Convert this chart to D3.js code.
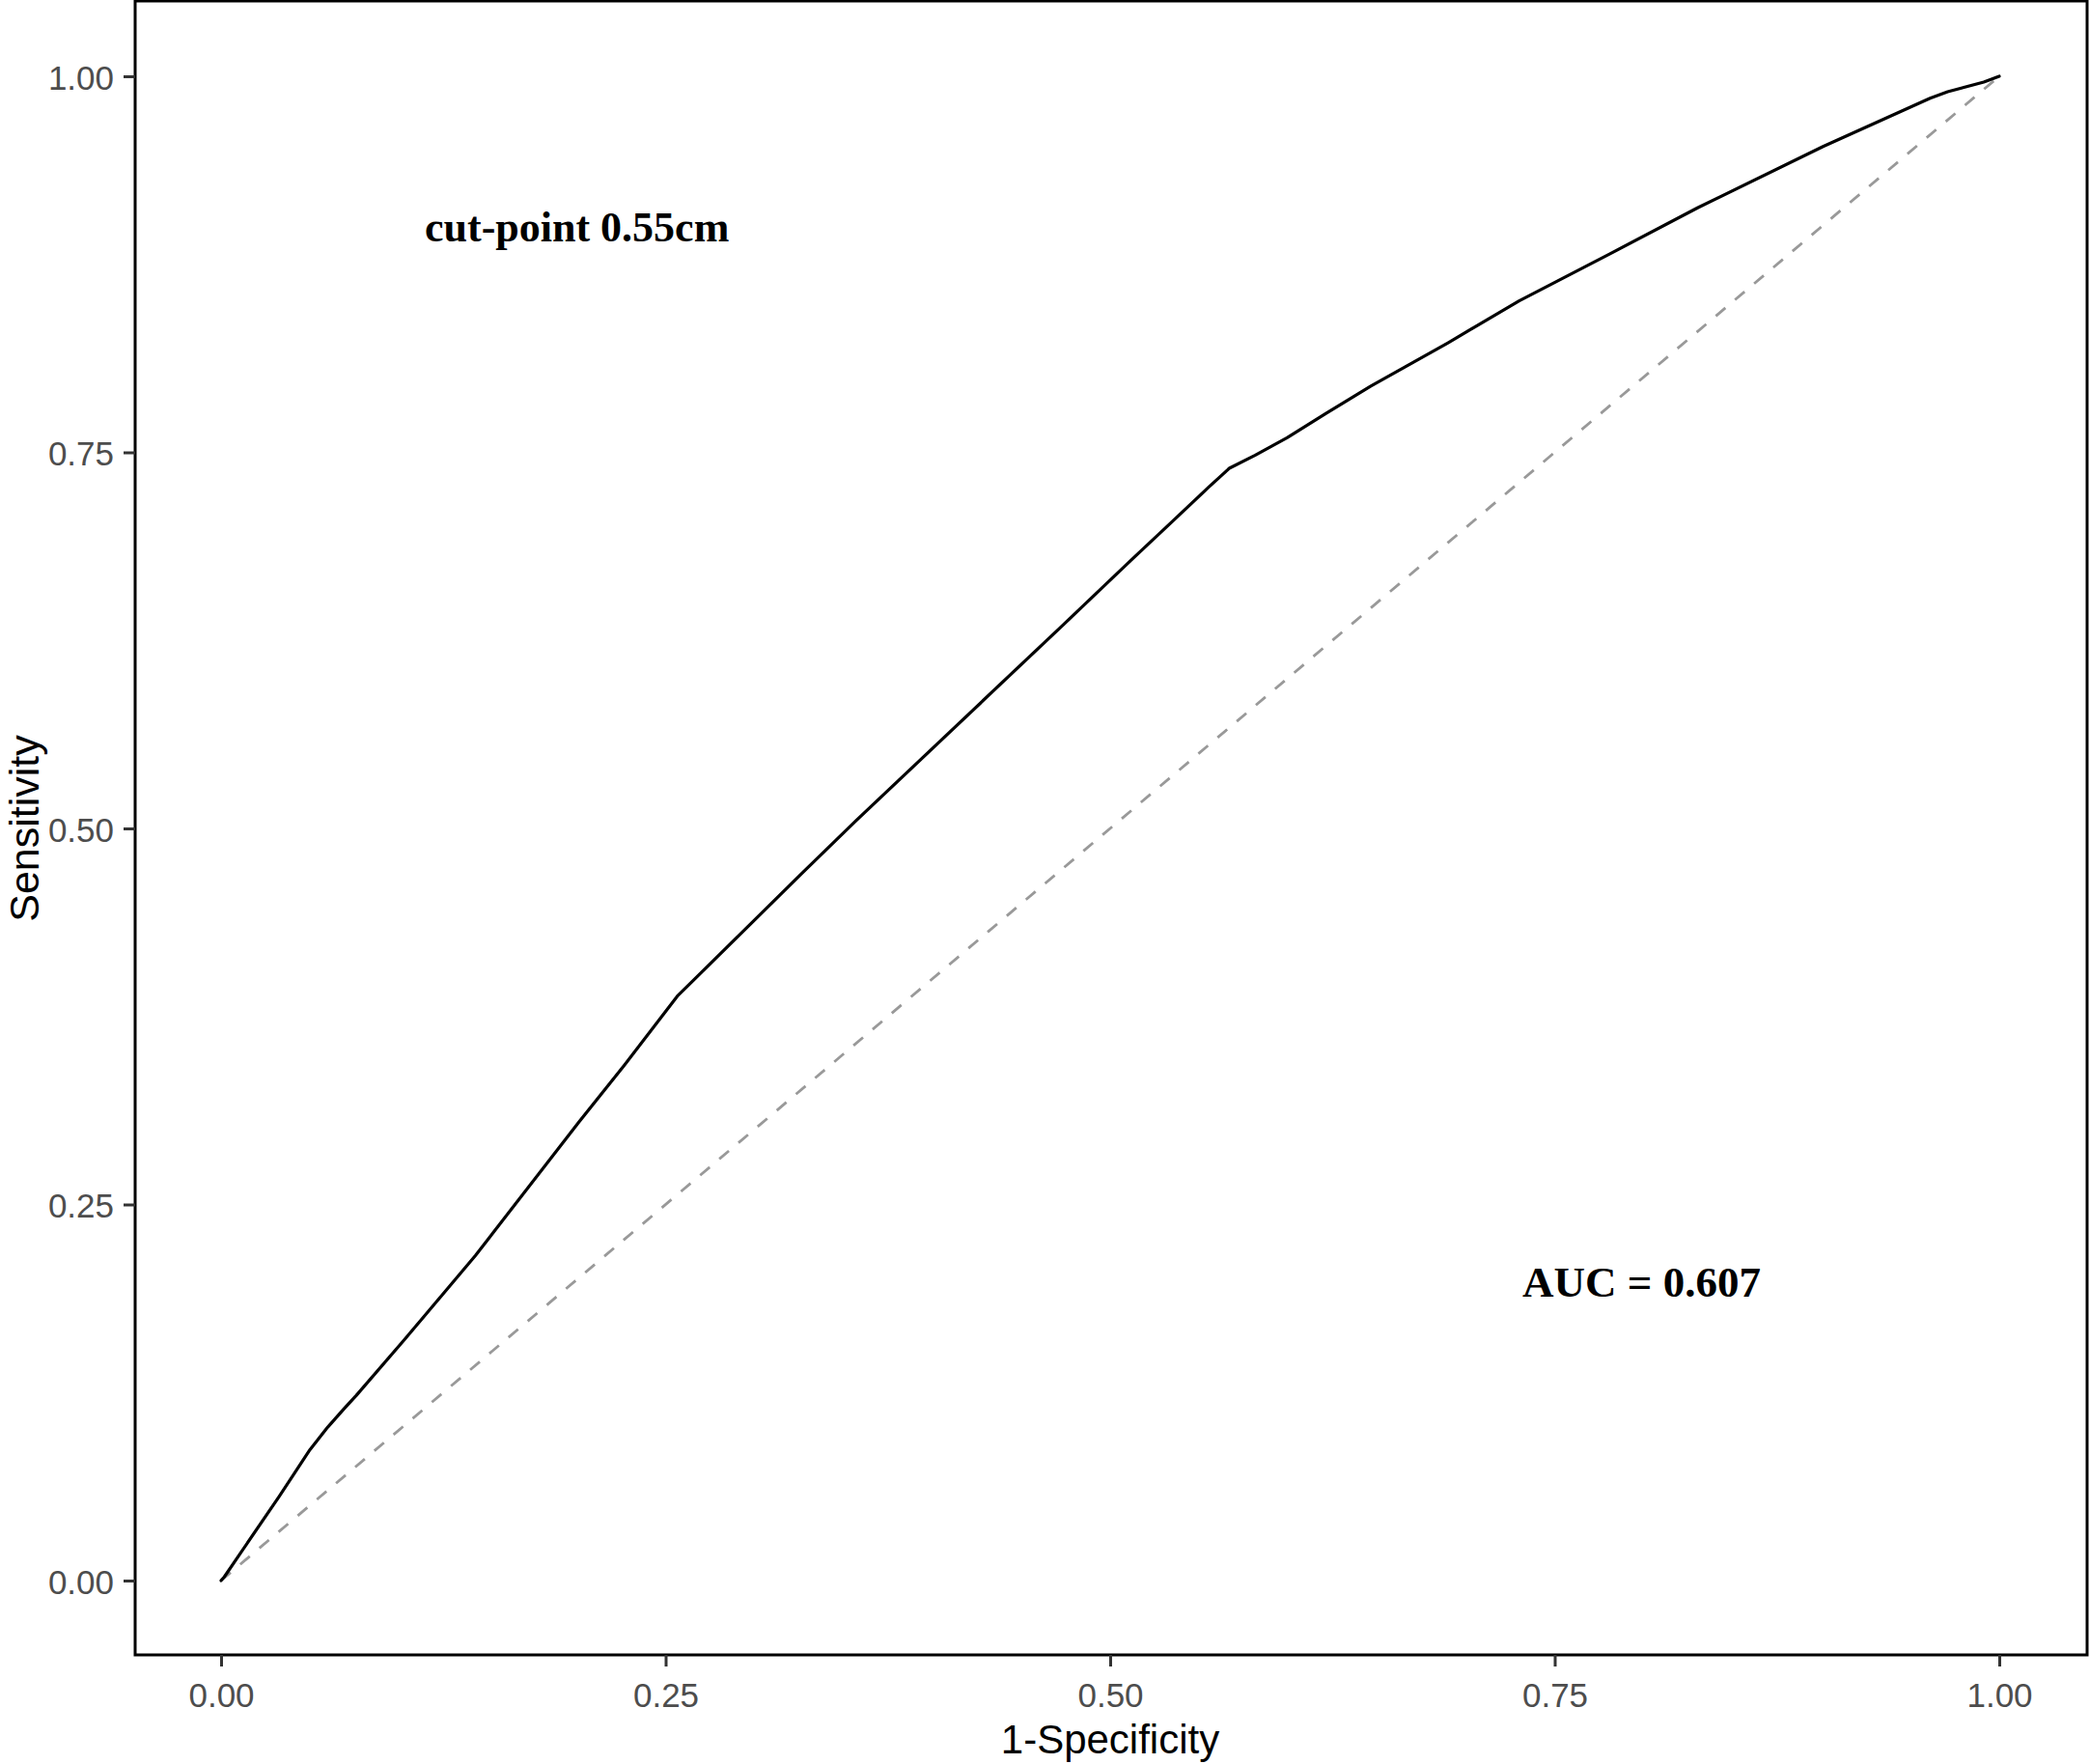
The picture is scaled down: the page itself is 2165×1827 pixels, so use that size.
<!DOCTYPE html>
<html>
<head>
<meta charset="utf-8">
<script src="https://cdn.jsdelivr.net/npm/d3@7/dist/d3.min.js"></script>
<style>
  html, body { margin: 0; padding: 0; background: #ffffff; }
  svg { display: block; }
</style>
</head>
<body>
<script>
// ---- data ----
const fpr = [0, 0.0018, 0.0326, 0.050, 0.060, 0.069, 0.076, 0.103, 0.128, 0.143, 0.2014, 0.2268, 0.2566,
             0.3263, 0.357, 0.4729, 0.490, 0.5118, 0.5335, 0.5552, 0.567, 0.5814, 0.5995, 0.6212,
             0.6466, 0.690, 0.730, 0.7824, 0.8306, 0.9009, 0.9611, 0.971, 0.9913, 1.0];
const tpr = [0, 0.0024, 0.0558, 0.087, 0.102, 0.114, 0.123, 0.160, 0.195, 0.216, 0.305, 0.3426, 0.3885,
             0.4698, 0.505, 0.6346, 0.6538, 0.6784, 0.7024, 0.7266, 0.7394, 0.748, 0.7597, 0.7758,
             0.794, 0.8228, 0.8507, 0.8828, 0.9127, 0.9533, 0.9854, 0.9897, 0.9961, 1.0];
const refLine = [0, 1];
const xTicks = [0, 0.25, 0.5, 0.75, 1];
const yTicks = [0, 0.25, 0.5, 0.75, 1];
const xTickLabels = ["0.00", "0.25", "0.50", "0.75", "1.00"];
const yTickLabels = ["0.00", "0.25", "0.50", "0.75", "1.00"];
const xTitle = "1-Specificity";
const yTitle = "Sensitivity";
const annoCut = "cut-point 0.55cm";
const annoAuc = "AUC = 0.607";

// ---- layout ----
const W = 2165, H = 1827;
const panel = {left: 140, top: 1, right: 2162, bottom: 1714};

const svg = d3.select("body").append("svg").attr("width", W).attr("height", H);

const x = d3.scaleLinear().domain([0, 1]).range([229, 2071]);
const y = d3.scaleLinear().domain([0, 1]).range([1637, 79]);

// diagonal reference
svg.append("line")
  .attr("x1", x(refLine[0])).attr("y1", y(refLine[0]))
  .attr("x2", x(refLine[1])).attr("y2", y(refLine[1]))
  .attr("stroke", "#999999").attr("stroke-width", 2.8)
  .attr("stroke-dasharray", "13,13");

// ROC curve
const pts = fpr.map((d, i) => [d, tpr[i]]);
svg.append("path")
  .datum(pts)
  .attr("fill", "none")
  .attr("stroke", "#000")
  .attr("stroke-width", 3.2)
  .attr("stroke-linejoin", "round")
  .attr("stroke-linecap", "round")
  .attr("d", d3.line().x(d => x(d[0])).y(d => y(d[1])));

// panel border
svg.append("rect")
  .attr("x", panel.left).attr("y", panel.top)
  .attr("width", panel.right - panel.left).attr("height", panel.bottom - panel.top)
  .attr("fill", "none").attr("stroke", "#000").attr("stroke-width", 3);

// axes
const xAxis = d3.axisBottom(x).tickValues(xTicks).tickSize(12).tickPadding(10)
  .tickFormat((d, i) => xTickLabels[i]);
const yAxis = d3.axisLeft(y).tickValues(yTicks).tickSize(12).tickPadding(10)
  .tickFormat((d, i) => yTickLabels[i]);

const gx = svg.append("g").attr("transform", `translate(0,${panel.bottom})`).call(xAxis);
const gy = svg.append("g").attr("transform", `translate(${panel.left},0)`).call(yAxis);

[gx, gy].forEach(g => {
  g.select(".domain").remove();
  g.selectAll(".tick line").attr("stroke", "#333").attr("stroke-width", 3);
  g.selectAll(".tick text")
    .attr("fill", "#4d4d4d")
    .style("font-family", "Arial, 'Liberation Sans', sans-serif")
    .style("font-size", "35px");
});
gx.selectAll(".tick text").attr("dy", "0.9em");
gy.selectAll(".tick text").attr("dy", "0.38em");

// axis titles
svg.append("text")
  .attr("x", x(0.5)).attr("y", 1816)
  .attr("text-anchor", "middle")
  .style("font-family", "Arial, 'Liberation Sans', sans-serif")
  .style("font-size", "42px")
  .attr("fill", "#000")
  .text(xTitle);

svg.append("text")
  .attr("transform", `translate(40,${y(0.5)}) rotate(-90)`)
  .attr("text-anchor", "middle")
  .style("font-family", "Arial, 'Liberation Sans', sans-serif")
  .style("font-size", "43px")
  .attr("fill", "#000")
  .text(yTitle);

// annotations
svg.append("text")
  .attr("x", 440).attr("y", 250)
  .style("font-family", "'Times New Roman', 'Liberation Serif', serif")
  .style("font-weight", "bold")
  .style("font-size", "44px")
  .attr("fill", "#000")
  .text(annoCut);

svg.append("text")
  .attr("x", 1577).attr("y", 1343)
  .style("font-family", "'Times New Roman', 'Liberation Serif', serif")
  .style("font-weight", "bold")
  .style("font-size", "45px")
  .attr("fill", "#000")
  .text(annoAuc);
</script>
</body>
</html>
